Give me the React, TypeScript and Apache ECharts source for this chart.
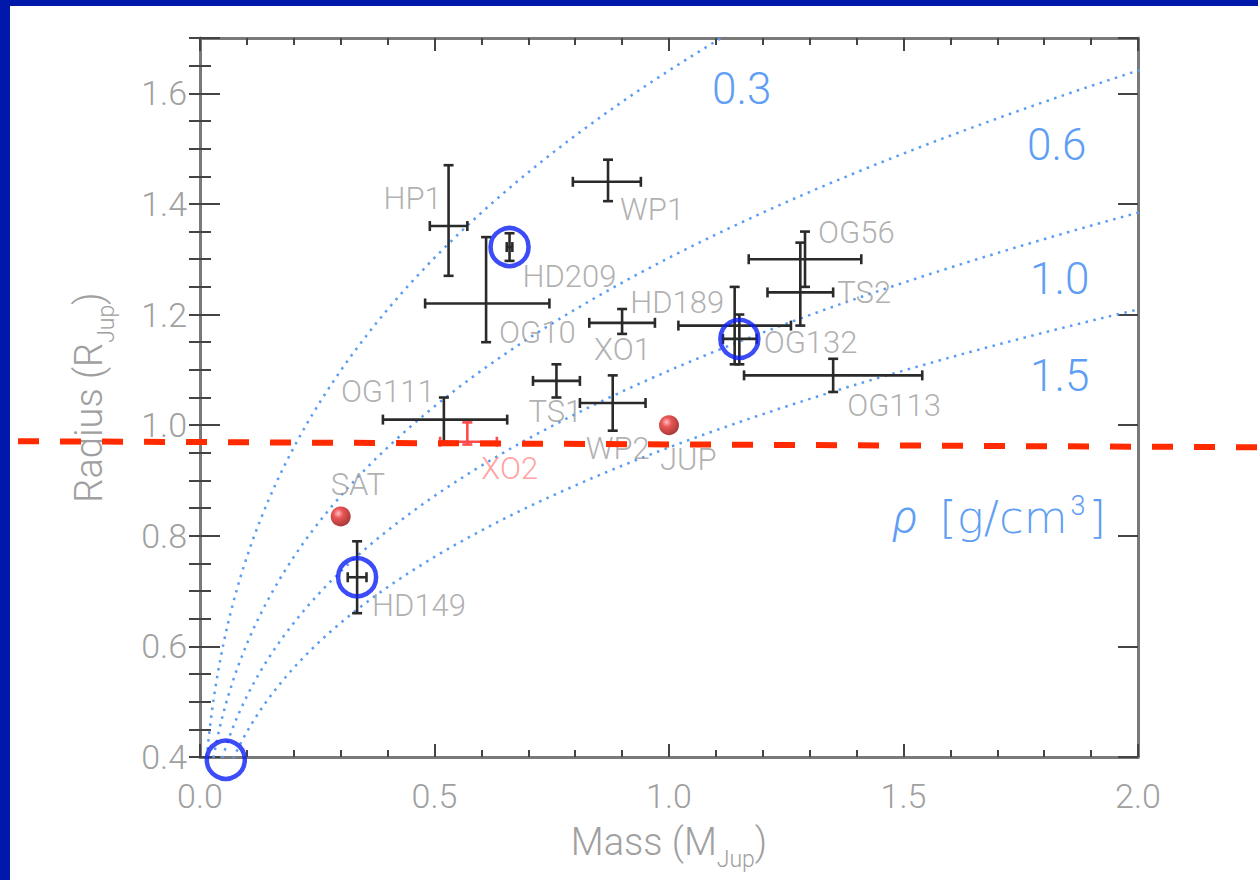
import React, { useEffect, useRef } from 'react';
import * as echarts from 'echarts';

// ---- Transiting planets (mass in M_Jup, radius in R_Jup, with error bounds)
const planetNames = ['HP1', 'WP1', 'HD209', 'OG10', 'XO1', 'HD189', 'OG132', 'OG56', 'TS2', 'OG113', 'OG111', 'TS1', 'WP2', 'HD149'];
const planetMass = [0.53, 0.87, 0.66, 0.61, 0.9, 1.15, 1.14, 1.29, 1.28, 1.35, 0.52, 0.76, 0.88, 0.335];
const planetMassLow = [0.49, 0.795, 0.654, 0.48, 0.83, 1.115, 1.02, 1.17, 1.21, 1.16, 0.39, 0.71, 0.81, 0.315];
const planetMassHigh = [0.57, 0.94, 0.666, 0.745, 0.97, 1.187, 1.26, 1.41, 1.35, 1.54, 0.655, 0.81, 0.95, 0.355];
const planetRadius = [1.36, 1.44, 1.322, 1.22, 1.185, 1.156, 1.18, 1.3, 1.24, 1.09, 1.01, 1.08, 1.04, 0.725];
const planetRadiusLow = [1.27, 1.405, 1.297, 1.15, 1.165, 1.11, 1.11, 1.25, 1.18, 1.06, 0.97, 1.05, 0.99, 0.66];
const planetRadiusHigh = [1.47, 1.48, 1.347, 1.34, 1.21, 1.2, 1.25, 1.35, 1.33, 1.12, 1.05, 1.11, 1.09, 0.79];

// ---- Highlighted (red) planet
const redNames = ['XO2'];
const redMass = [0.57];
const redMassLow = [0.512];
const redMassHigh = [0.633];
const redRadius = [0.97];
const redRadiusLow = [0.965];
const redRadiusHigh = [1.005];

// ---- Solar system giants
const solarNames = ['JUP', 'SAT'];
const solarMass = [1.0, 0.3];
const solarRadius = [1.0, 0.835];

// ---- Iso-density curves (g/cm^3)
const densityLevels = [0.3, 0.6, 1.0, 1.5];
const densityLabels = ['0.3', '0.6', '1.0', '1.5'];
const RHO_JUP = 1.326;
const curveRadii = Array.from({ length: 280 }, (_, i) => 0.37 + i * 0.005);

// ---- Annotations
const circledNames = ['HD209', 'HD149', 'HD189'];
const extraCircle = [0.055, 0.395];
const refLineMass = [-0.388, 2.256];
const refLineRadius = [0.971, 0.96];

// ---- Axis ticks
const xMin = 0, xMax = 2, xMajor = 0.5;
const yMin = 0.4, yMax = 1.7, yMajor = 0.2, yMinor = 0.05;

// ---- Label layout (pixel offsets from the point, text left / middle)
const labelOffsets: Record<string, [number, number]> = {
  HP1: [-65, -28], WP1: [12, 28], HD209: [13, 29], OG10: [13, 29], XO1: [-28, 27],
  HD189: [-109, -36], OG132: [29, 17], OG56: [13, -27], TS2: [37, 0], OG113: [14, 30],
  OG111: [-103, -28], TS1: [-28, 31], WP2: [-27, 45], HD149: [15, 28],
  XO2: [14, 27], JUP: [-9, 34], SAT: [-10, -32],
};
const densityLabelPos: [number, number][] = [[702, 83], [1017, 139], [1020, 273], [1020, 370]];

const FONT = 'Roboto, "Liberation Sans", Arial, sans-serif';
const WIDE_FONT = '"DejaVu Sans", sans-serif';
const WEIGHT = 300;
const GRAY_TEXT = '#a0a0a0';
const FRAME = '#7a7a7a';
const TICK = '#444444';
const BLUE_TEXT = '#5f9ef5';

function makeErrorBars(color: string) {
  return (params: any, api: any) => {
    const m = api.value(0), r = api.value(1);
    const mLo = api.value(2), mHi = api.value(3), rLo = api.value(4), rHi = api.value(5);
    const c = api.coord([m, r]);
    const l = api.coord([mLo, r]);
    const rt = api.coord([mHi, r]);
    const t = api.coord([m, rHi]);
    const b = api.coord([m, rLo]);
    const cap = 5;
    const style = { stroke: color, lineWidth: 2.6 };
    const ln = (x1: number, y1: number, x2: number, y2: number) => ({ type: 'line', shape: { x1, y1, x2, y2 }, style });
    return {
      type: 'group',
      children: [
        ln(l[0], c[1], rt[0], c[1]),
        ln(c[0], t[1], c[0], b[1]),
        ln(l[0], c[1] - cap, l[0], c[1] + cap),
        ln(rt[0], c[1] - cap, rt[0], c[1] + cap),
        ln(c[0] - cap, t[1], c[0] + cap, t[1]),
        ln(c[0] - cap, b[1], c[0] + cap, b[1]),
      ],
    };
  };
}

export default function App() {
  const ref = useRef<HTMLDivElement>(null);

  useEffect(() => {
    document.body.style.margin = '0';
    if (!ref.current) return;
    const chart = echarts.init(ref.current, undefined, { renderer: 'svg' });

    const planetData = planetNames.map((n, i) => ({
      name: n,
      value: [planetMass[i], planetRadius[i], planetMassLow[i], planetMassHigh[i], planetRadiusLow[i], planetRadiusHigh[i]],
    }));
    const redData = redNames.map((n, i) => ({
      name: n,
      value: [redMass[i], redRadius[i], redMassLow[i], redMassHigh[i], redRadiusLow[i], redRadiusHigh[i]],
    }));

    const labelItem = (name: string, m: number, r: number, color: string) => ({
      name,
      value: [m, r],
      label: { offset: labelOffsets[name] || [10, 20], color },
    });
    const labelData = [
      ...planetNames.map((n, i) => labelItem(n, planetMass[i], planetRadius[i], '#9c9c9c')),
      ...redNames.map((n, i) => labelItem(n, redMass[i], redRadius[i], '#ff8a8a')),
      ...solarNames.map((n, i) => labelItem(n, solarMass[i], solarRadius[i], '#9c9c9c')),
    ];

    const circleData = [
      ...circledNames.map((n) => {
        const i = planetNames.indexOf(n);
        return [planetMass[i], planetRadius[i]];
      }),
      extraCircle,
    ];

    const densitySeries = densityLevels.map((rho, k) => ({
      type: 'line',
      name: 'rho ' + densityLabels[k],
      xAxisIndex: 0,
      yAxisIndex: 0,
      showSymbol: false,
      symbol: 'none',
      clip: true,
      silent: true,
      z: 1,
      lineStyle: { color: '#5a9cf2', width: 2.5, type: [2.5, 5.5] },
      data: curveRadii.map((r) => [(r * r * r * rho) / RHO_JUP, r]),
    }));

    const tickFmt = (step: number) => (v: number) =>
      Math.abs(v / step - Math.round(v / step)) < 1e-6 ? v.toFixed(1) : '';

    const baseAxisLine = { show: true, onZero: false, lineStyle: { color: FRAME, width: 3 } };
    const nameRich = {
      a: { fontSize: 38, fontFamily: FONT, fontWeight: WEIGHT, color: GRAY_TEXT, lineHeight: 46, verticalAlign: 'middle' },
      s: { fontSize: 23, fontFamily: FONT, fontWeight: WEIGHT, color: GRAY_TEXT, lineHeight: 24, verticalAlign: 'bottom', padding: [0, 0, -6, 0] },
    };

    const option: any = {
      animation: false,
      backgroundColor: '#ffffff',
      grid: { left: 190, top: 32, width: 938, height: 719, containLabel: false },
      xAxis: [
        {
          type: 'value', position: 'bottom', min: xMin, max: xMax, interval: xMajor,
          axisLine: baseAxisLine,
          axisTick: { show: true, inside: true, length: 13, lineStyle: { color: TICK, width: 2 } },
          minorTick: { show: true, splitNumber: 5, length: 7, lineStyle: { color: TICK, width: 2 } },
          splitLine: { show: false },
          minorSplitLine: { show: false },
          axisLabel: { show: true, margin: 22, color: GRAY_TEXT, fontSize: 34, fontFamily: FONT, fontWeight: WEIGHT, formatter: tickFmt(xMajor) },
          name: '{a|Mass (M}{s|Jup}{a|)}',
          nameLocation: 'middle',
          nameGap: 62,
          nameTextStyle: { rich: nameRich },
        },
        {
          type: 'value', position: 'top', min: xMin, max: xMax, interval: xMajor,
          axisLine: baseAxisLine,
          axisTick: { show: true, inside: true, length: 13, lineStyle: { color: TICK, width: 2 } },
          minorTick: { show: true, splitNumber: 5, length: 7, lineStyle: { color: TICK, width: 2 } },
          splitLine: { show: false },
          axisLabel: { show: false },
        },
      ],
      yAxis: [
        {
          type: 'value', position: 'left', min: yMin, max: yMax, interval: yMajor,
          axisLine: baseAxisLine,
          axisTick: { show: true, inside: true, length: 20, lineStyle: { color: TICK, width: 2 } },
          splitLine: { show: false },
          axisLabel: { show: true, margin: 13, color: GRAY_TEXT, fontSize: 34, fontFamily: FONT, fontWeight: WEIGHT, formatter: tickFmt(yMajor) },
          name: '{a|Radius (R}{s|Jup}{a|)}',
          nameLocation: 'middle',
          nameRotate: 90,
          nameGap: 88,
          nameTextStyle: { rich: nameRich },
        },
        {
          type: 'value', position: 'left', min: yMin, max: yMax, interval: yMinor,
          axisLine: { show: false },
          axisTick: { show: true, inside: true, length: 11, lineStyle: { color: TICK, width: 2 } },
          splitLine: { show: false },
          axisLabel: { show: false },
        },
        {
          type: 'value', position: 'right', min: yMin, max: yMax, interval: yMajor,
          axisLine: baseAxisLine,
          axisTick: { show: true, inside: true, length: 20, lineStyle: { color: TICK, width: 2 } },
          splitLine: { show: false },
          axisLabel: { show: false },
        },
        {
          type: 'value', position: 'right', min: yMin, max: yMax, interval: yMinor,
          axisLine: { show: false },
          axisTick: { show: true, inside: true, length: 11, lineStyle: { color: TICK, width: 2 } },
          splitLine: { show: false },
          axisLabel: { show: false },
        },
      ],
      graphic: [
        ...densityLabels.map((t, k) => ({
          type: 'text',
          id: 'dens' + k,
          x: densityLabelPos[k][0],
          y: densityLabelPos[k][1],
          silent: true,
          style: { text: t, fill: BLUE_TEXT, fontSize: 44, fontFamily: FONT, fontWeight: WEIGHT, align: 'left', verticalAlign: 'middle' },
        })),
        {
          type: 'text',
          id: 'rhoUnit',
          x: 883,
          y: 511,
          silent: true,
          style: {
            text: '{r|ρ}  {n|[g/cm}{s|3}{n|]}',
            fill: BLUE_TEXT,
            fontSize: 43,
            fontFamily: FONT,
            align: 'left',
            verticalAlign: 'middle',
            rich: {
              r: { fontStyle: 'italic', fontSize: 46, fontFamily: FONT, fontWeight: WEIGHT, fill: BLUE_TEXT, lineHeight: 50, verticalAlign: 'middle' },
              n: { fontSize: 45, fontFamily: WIDE_FONT, fontWeight: 200, fill: BLUE_TEXT, lineHeight: 50, verticalAlign: 'middle' },
              s: { fontSize: 27, fontFamily: FONT, fontWeight: WEIGHT, fill: BLUE_TEXT, lineHeight: 26, verticalAlign: 'top', padding: [0, 3, 0, 3] },
            },
          },
        },
      ],
      series: [
        ...densitySeries,
        {
          type: 'custom',
          name: 'planets',
          xAxisIndex: 0,
          yAxisIndex: 0,
          z: 3,
          renderItem: makeErrorBars('#2a2a2a'),
          encode: { x: [0, 2, 3], y: [1, 4, 5] },
          data: planetData,
        },
        {
          type: 'custom',
          name: 'XO2',
          xAxisIndex: 0,
          yAxisIndex: 0,
          z: 3,
          renderItem: makeErrorBars('#ff4a4a'),
          encode: { x: [0, 2, 3], y: [1, 4, 5] },
          data: redData,
        },
        {
          type: 'scatter',
          name: 'solar',
          xAxisIndex: 0,
          yAxisIndex: 0,
          z: 4,
          symbolSize: 20,
          itemStyle: {
            color: {
              type: 'radial', x: 0.38, y: 0.35, r: 0.7,
              colorStops: [
                { offset: 0, color: '#ffb0b0' },
                { offset: 0.35, color: '#e52a2a' },
                { offset: 1, color: '#8c0505' },
              ],
            },
          },
          data: solarNames.map((n, i) => ({ name: n, value: [solarMass[i], solarRadius[i]] })),
        },
        {
          type: 'scatter',
          name: 'labels',
          xAxisIndex: 0,
          yAxisIndex: 0,
          z: 5,
          symbolSize: 1,
          itemStyle: { color: 'rgba(0,0,0,0)' },
          label: {
            show: true,
            position: 'inside',
            align: 'left',
            verticalAlign: 'middle',
            formatter: '{b}',
            fontSize: 31,
            fontFamily: FONT,
            fontWeight: WEIGHT,
          },
          data: labelData,
        },
        {
          type: 'scatter',
          name: 'circles',
          xAxisIndex: 0,
          yAxisIndex: 0,
          clip: false,
          z: 8,
          symbolSize: 38,
          itemStyle: { color: 'rgba(0,0,0,0)', borderColor: '#0b1ff5', borderWidth: 4.5 },
          data: circleData,
        },
      ],
    };

    chart.setOption(option);

    // Reference radius line: positioned through the axes' own scale
    const p0 = chart.convertToPixel({ xAxisIndex: 0, yAxisIndex: 0 }, [refLineMass[0], refLineRadius[0]]) as number[];
    const p1 = chart.convertToPixel({ xAxisIndex: 0, yAxisIndex: 0 }, [refLineMass[1], refLineRadius[1]]) as number[];
    chart.setOption({
      graphic: [
        {
          type: 'line',
          id: 'refLine',
          silent: true,
          z: 100,
          shape: { x1: p0[0], y1: p0[1], x2: p1[0], y2: p1[1] },
          style: { stroke: '#ff2a00', lineWidth: 6, lineDash: [21, 21] },
        },
      ],
    });

    return () => chart.dispose();
  }, []);

  return (
    <div style={{ position: 'relative', width: 1258, height: 880, background: '#0019aa', overflow: 'hidden' }}>
      <div ref={ref} style={{ position: 'absolute', left: 10, top: 6, width: 1248, height: 874, background: '#ffffff' }} />
    </div>
  );
}
